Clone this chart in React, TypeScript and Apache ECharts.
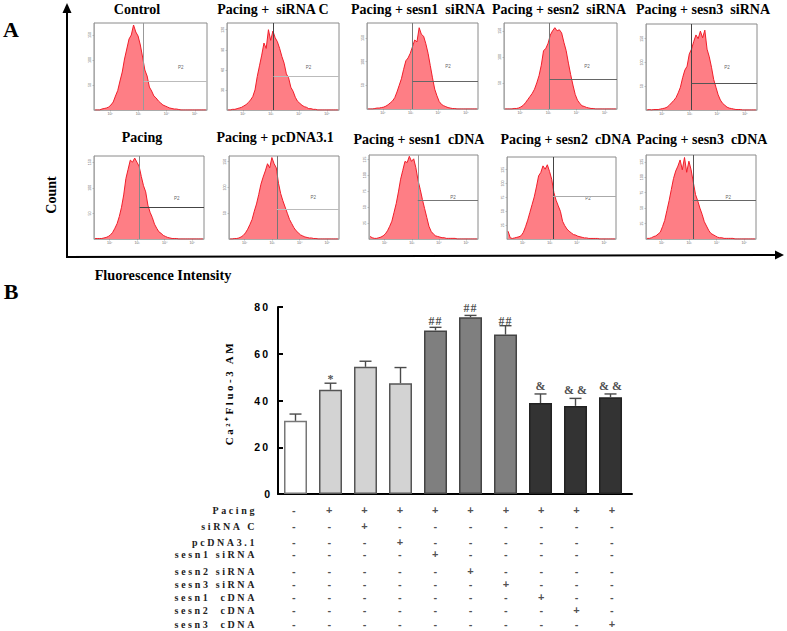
import React, { useEffect, useRef } from "react";
import * as echarts from "echarts";

// ---------- Panel A data: fluorescence histograms ----------
const BINS = [1.47, 1.55, 1.63, 1.71, 1.79, 1.87, 1.95, 2.03, 2.11, 2.19, 2.27, 2.35, 2.43, 2.51, 2.59, 2.67, 2.75, 2.83, 2.91, 2.99, 3.07, 3.15, 3.23, 3.31, 3.39, 3.47, 3.55, 3.63, 3.71, 3.79, 3.87, 3.95, 4.03, 4.11, 4.19, 4.27, 4.35, 4.43, 4.51, 4.59, 4.67, 4.75, 4.83, 4.91, 4.99, 5.07, 5.15, 5.23, 5.31, 5.39];
const HIST_CONTROL = [0, 0, 0, 2, 3, 4, 6, 10, 16, 28, 39, 58, 76, 102, 122, 142, 150, 170, 156, 148, 130, 106, 80, 68, 46, 38, 28, 24, 18, 14, 10, 8, 6, 4, 3, 2, 2, 1, 0, 0, 0, 0, 0, 0, 0, 0, 0, 0, 0, 0];
const HIST_SIRNA_C = [0, 0, 1, 1, 2, 3, 4, 6, 8, 11, 15, 20, 30, 50, 66, 82, 100, 92, 120, 104, 118, 108, 102, 92, 80, 70, 54, 48, 34, 28, 19, 13, 10, 7, 5, 4, 2, 2, 1, 1, 0, 0, 0, 0, 0, 0, 0, 0, 0, 0];
const HIST_SESN1_SI = [0, 0, 0, 1, 2, 2, 3, 4, 6, 9, 13, 17, 24, 36, 50, 64, 84, 102, 108, 118, 132, 146, 142, 172, 158, 154, 138, 118, 92, 66, 42, 28, 16, 10, 7, 5, 3, 2, 1, 1, 0, 0, 0, 0, 0, 0, 0, 0, 0, 0];
const HIST_SESN2_SI = [0, 0, 0, 0, 1, 1, 2, 4, 7, 12, 18, 24, 30, 38, 50, 64, 84, 112, 116, 126, 142, 150, 156, 150, 152, 146, 128, 112, 88, 66, 46, 28, 17, 11, 6, 5, 3, 2, 1, 1, 0, 0, 0, 0, 0, 0, 0, 0, 0, 0];
const HIST_SESN3_SI = [0, 1, 0, 1, 1, 1, 2, 3, 4, 6, 10, 15, 20, 26, 36, 48, 68, 84, 92, 118, 128, 144, 158, 150, 166, 152, 168, 128, 112, 90, 64, 48, 32, 21, 14, 10, 6, 4, 3, 2, 1, 1, 1, 0, 0, 0, 0, 0, 0, 0];
const HIST_PACING = [1, 1, 1, 1, 2, 3, 5, 8, 13, 21, 30, 44, 62, 86, 118, 136, 154, 150, 158, 150, 142, 122, 104, 92, 66, 52, 42, 29, 21, 14, 11, 7, 5, 3, 2, 1, 1, 1, 0, 0, 0, 0, 0, 0, 0, 0, 0, 0, 0, 0];
const HIST_PCDNA = [0, 0, 1, 1, 2, 4, 7, 12, 19, 28, 38, 54, 68, 86, 106, 120, 132, 146, 138, 158, 146, 138, 108, 88, 74, 62, 50, 38, 30, 22, 16, 12, 8, 6, 4, 3, 2, 2, 1, 1, 0, 0, 0, 0, 0, 0, 0, 0, 0, 0];
const HIST_SESN1_C = [4, 2, 1, 1, 2, 3, 5, 8, 13, 20, 28, 42, 56, 74, 94, 108, 122, 120, 130, 122, 126, 112, 92, 78, 62, 48, 34, 20, 12, 8, 5, 4, 3, 2, 2, 1, 1, 1, 1, 1, 0, 0, 0, 0, 0, 0, 0, 0, 0, 0];
const HIST_SESN2_C = [14, 2, 1, 2, 3, 4, 6, 12, 22, 34, 48, 62, 76, 94, 114, 120, 132, 126, 134, 122, 108, 84, 70, 60, 50, 32, 24, 18, 14, 11, 8, 7, 5, 4, 3, 2, 2, 1, 1, 1, 1, 1, 0, 0, 0, 0, 0, 0, 0, 0];
const HIST_SESN3_C = [1, 1, 2, 4, 5, 8, 11, 20, 30, 46, 62, 80, 98, 110, 118, 128, 112, 132, 108, 126, 112, 92, 72, 62, 50, 40, 28, 21, 14, 9, 7, 5, 3, 2, 2, 1, 1, 1, 1, 1, 0, 0, 0, 0, 0, 0, 0, 0, 0, 0];

const PANEL_TITLES = ["Control", "Pacing +  siRNA C", "Pacing + sesn1  siRNA", "Pacing + sesn2  siRNA", "Pacing + sesn3  siRNA", "Pacing", "Pacing + pcDNA3.1", "Pacing + sesn1  cDNA", "Pacing + sesn2  cDNA", "Pacing + sesn3  cDNA"];
const PANEL_HISTS = [HIST_CONTROL, HIST_SIRNA_C, HIST_SESN1_SI, HIST_SESN2_SI, HIST_SESN3_SI, HIST_PACING, HIST_PCDNA, HIST_SESN1_C, HIST_SESN2_C, HIST_SESN3_C];
const PANEL_YMAX = [174, 130, 182, 165, 181, 162, 161, 132, 148, 136];
const Y_TICKS_50 = [50, 100, 150];
const Y_TICKS_30 = [30, 60, 90, 120];
const Y_TICKS_25 = [25, 50, 75, 100, 125];
const PANEL_YTICKS = [Y_TICKS_50, Y_TICKS_30, Y_TICKS_50, Y_TICKS_50, Y_TICKS_50, Y_TICKS_50, Y_TICKS_50, Y_TICKS_25, Y_TICKS_25, Y_TICKS_25];
const GATE_X = [3.19, 3.09, 3.07, 3.04, 3.07, 3.09, 3.17, 3.22, 3.11, 3.13];
const GATE_Y = [58, 50, 59, 58, 56, 62, 57, 61, 77, 63];
const P2_X = [4.5, 4.34, 4.35, 4.37, 4.35, 4.44, 4.49, 4.51, 4.4, 4.42];
const P2_Y = [86, 64, 90, 82, 90, 80, 80, 65, 73, 67];
const DECADES = [2, 3, 4, 5];
const DECADE_LABELS: Record<number, string> = { 2: "10²", 3: "10³", 4: "10⁴", 5: "10⁵" };

// ---------- Panel B data ----------
const MEANS = [31.3, 44.6, 54.4, 47.4, 70, 75.6, 68.2, 38.9, 37.7, 41.4];
const UPPER = [34.2, 47.4, 56.8, 54.1, 71.3, 76.4, 72, 42.8, 40.9, 42.8];
const MARKS = ["", "*", "", "", "##", "##", "##", "&", "& &", "& &"];
const MARK_Y = [0, 49.4, 0, 0, 74, 79.6, 74, 46, 44.6, 46];
const GROUPS = [0, 1, 1, 1, 2, 2, 2, 3, 3, 3];
const ROW_NAMES = ["Pacing", "siRNA C", "pcDNA3.1", "sesn1 siRNA", "sesn2 siRNA", "sesn3 siRNA", "sesn1  cDNA", "sesn2  cDNA", "sesn3  cDNA"];
const R_PACING = ["-", "+", "+", "+", "+", "+", "+", "+", "+", "+"];
const R_SIRNA = ["-", "-", "+", "-", "-", "-", "-", "-", "-", "-"];
const R_PCDNA = ["-", "-", "-", "+", "-", "-", "-", "-", "-", "-"];
const R_S1SI = ["-", "-", "-", "-", "+", "-", "-", "-", "-", "-"];
const R_S2SI = ["-", "-", "-", "-", "-", "+", "-", "-", "-", "-"];
const R_S3SI = ["-", "-", "-", "-", "-", "-", "+", "-", "-", "-"];
const R_S1C = ["-", "-", "-", "-", "-", "-", "-", "+", "-", "-"];
const R_S2C = ["-", "-", "-", "-", "-", "-", "-", "-", "+", "-"];
const R_S3C = ["-", "-", "-", "-", "-", "-", "-", "-", "-", "+"];
const MATRIX = [R_PACING, R_SIRNA, R_PCDNA, R_S1SI, R_S2SI, R_S3SI, R_S1C, R_S2C, R_S3C];

// ---------- Layout and style (pixels) ----------
const PANEL_BOX = [
  [94, 23, 113, 87], [227, 23, 112, 87], [367, 23, 111, 86], [504, 23, 113, 86], [646, 24, 111, 86],
  [94, 156, 110, 83], [229, 156, 110, 83], [369, 155, 109, 84], [507, 157, 109, 82], [646, 155, 110, 84],
];
const TITLE_POS = [[137, 9], [273, 9], [418, 9], [559, 9], [703, 9], [142, 137], [275, 137], [419, 139], [566, 139], [702, 139]];
const GATE_V_COLOR = ["#999", "#444", "#777", "#777", "#444", "#888", "#777", "#999", "#444", "#555"];
const GATE_H_COLOR = ["#bbb", "#bbb", "#666", "#666", "#555", "#444", "#bbb", "#777", "#aaa", "#666"];
const ROW_PX = [510, 526, 542, 554, 571, 584, 597, 610, 624];
const GROUP_FILL = ["#ffffff", "#d3d3d3", "#7f7f7f", "#333333"];
const GROUP_EDGE = ["#777777", "#555555", "#444444", "#222222"];
const SERIF = "'Liberation Serif', serif";
const SANS = "'Liberation Sans', sans-serif";
const HIDDEN_POINT = { color: "transparent", borderWidth: 0 };

function buildOption() {
  const grids: any[] = [];
  const xAxes: any[] = [];
  const yAxes: any[] = [];
  const series: any[] = [];

  PANEL_HISTS.forEach((hist, i) => {
    const [left, top, width, height] = PANEL_BOX[i];
    grids.push({ left, top, width, height, show: true, borderColor: "#8a8a8a", borderWidth: 1, backgroundColor: "#fff" });
    xAxes.push({
      gridIndex: i, type: "value", min: 1.43, max: 5.43, splitLine: { show: false },
      axisLine: { lineStyle: { color: "#999", width: 0.6 } },
      axisTick: { customValues: DECADES, length: 1.5, lineStyle: { color: "#888", width: 0.5 } },
      axisLabel: { customValues: DECADES, fontSize: 3.6, margin: 2, color: "#666", fontFamily: SANS, formatter: (v: number) => DECADE_LABELS[v] },
    });
    yAxes.push({
      gridIndex: i, type: "value", min: 0, max: PANEL_YMAX[i], splitLine: { show: false },
      axisLine: { lineStyle: { color: "#999", width: 0.6 } },
      axisTick: { customValues: PANEL_YTICKS[i], length: 1.5, lineStyle: { color: "#888", width: 0.5 } },
      axisLabel: { customValues: PANEL_YTICKS[i], fontSize: 3.6, margin: 2, rotate: 90, color: "#666", fontFamily: SANS },
    });
    series.push({
      type: "line", xAxisIndex: i, yAxisIndex: i, symbol: "none", silent: true,
      data: hist.map((v, k) => [BINS[k], v]),
      lineStyle: { color: "#f01e2a", width: 1 }, areaStyle: { color: "#fe7e85", opacity: 1 },
      markLine: {
        silent: true, symbol: "none", animation: false, label: { show: false },
        data: [
          [{ coord: [GATE_X[i], 0], lineStyle: { color: GATE_V_COLOR[i], width: 1, type: "solid" } }, { coord: [GATE_X[i], PANEL_YMAX[i]] }],
          [{ coord: [GATE_X[i], GATE_Y[i]], lineStyle: { color: GATE_H_COLOR[i], width: 1, type: "solid" } }, { coord: [5.43, GATE_Y[i]] }],
        ],
      },
    });
    series.push({
      type: "scatter", xAxisIndex: i, yAxisIndex: i, silent: true, symbolSize: 1, itemStyle: HIDDEN_POINT,
      data: [[P2_X[i], P2_Y[i]]],
      label: { show: true, position: "inside", formatter: "P2", fontSize: 4.5, color: "#333", textBorderWidth: 0, fontFamily: SANS },
    });
  });

  // Bar chart
  grids.push({ left: 278, top: 307, width: 354, height: 187 });
  xAxes.push({
    gridIndex: 10, type: "value", min: 0, max: 10.114, splitLine: { show: false },
    axisLine: { onZero: false, lineStyle: { color: "#000", width: 2 } }, axisTick: { show: false }, axisLabel: { show: false },
  });
  yAxes.push({
    gridIndex: 10, type: "value", min: 0, max: 80, interval: 20, splitLine: { show: false },
    axisLine: { show: true, lineStyle: { color: "#000", width: 2 } },
    axisTick: { show: true, inside: true, length: 5, lineStyle: { color: "#000", width: 2 } },
    axisLabel: { fontSize: 10.5, fontWeight: "bold", color: "#000", fontFamily: SANS, margin: 8 },
  });
  series.push({
    type: "bar", xAxisIndex: 10, yAxisIndex: 10, barWidth: 23, silent: true,
    data: MEANS.map((v, i) => ({
      value: [i + 0.5, v],
      itemStyle: { color: GROUP_FILL[GROUPS[i]], borderColor: GROUP_EDGE[GROUPS[i]], borderWidth: 1.5 },
    })),
  });
  series.push({
    type: "custom", xAxisIndex: 10, yAxisIndex: 10, silent: true, z: 3,
    data: MEANS.map((v, i) => [i + 0.5, v, UPPER[i]]),
    renderItem: (_: any, api: any) => {
      const low = api.coord([api.value(0), api.value(1)]);
      const high = api.coord([api.value(0), api.value(2)]);
      const style = { stroke: "#4a4a4a", lineWidth: 1.4, fill: "none" };
      return {
        type: "group",
        children: [
          { type: "line", shape: { x1: low[0], y1: low[1], x2: high[0], y2: high[1] }, style },
          { type: "line", shape: { x1: high[0] - 6, y1: high[1], x2: high[0] + 6, y2: high[1] }, style },
        ],
      };
    },
  });
  series.push({
    type: "scatter", xAxisIndex: 10, yAxisIndex: 10, silent: true, symbolSize: 1, itemStyle: HIDDEN_POINT, z: 4,
    data: MARKS.map((m, i) => ({ value: [i + 0.5, MARK_Y[i]], name: m })).filter((d) => d.name),
    label: { show: true, position: "inside", formatter: "{b}", fontSize: 12, fontWeight: "bold", color: "#222", textBorderWidth: 0, fontFamily: SERIF },
  });

  // +/- table: same origin as the bar chart, column pitch
  grids.push({ left: 278, top: 495, width: 354, height: 136 });
  xAxes.push({ gridIndex: 11, type: "value", min: 0, max: 10.02, show: false, splitLine: { show: false } });
  yAxes.push({
    gridIndex: 11, type: "value", inverse: true, min: 495, max: 631, splitLine: { show: false },
    axisLine: { show: false }, axisTick: { show: false },
    axisLabel: {
      customValues: ROW_PX, fontSize: 10, fontWeight: "bold", color: "#222", fontFamily: SERIF, margin: 21,
      formatter: (v: number) => ROW_NAMES[ROW_PX.indexOf(v)],
    },
  });
  series.push({
    type: "scatter", xAxisIndex: 11, yAxisIndex: 11, silent: true, symbolSize: 1, itemStyle: HIDDEN_POINT,
    data: MATRIX.flatMap((row, r) => row.map((s, c) => ({ value: [c + 0.45, ROW_PX[r]], name: s }))),
    label: { show: true, position: "inside", formatter: "{b}", fontSize: 11, fontWeight: "bold", color: "#222", textBorderWidth: 0, fontFamily: SANS },
  });

  const text = (x: number, y: number, t: string, fontSize: number, extra: any = {}) => ({
    type: "text", x, y, silent: true, ...extra,
    style: { text: t, fontSize, fontWeight: "bold", fontFamily: SERIF, fill: "#000", align: "center", verticalAlign: "middle", ...(extra.style || {}) },
  });
  const graphic = [
    { type: "line", silent: true, shape: { x1: 67, y1: 257, x2: 67, y2: 10 }, style: { stroke: "#000", lineWidth: 2 } },
    { type: "polygon", silent: true, shape: { points: [[67, 3], [62.5, 13], [71.5, 13]] }, style: { fill: "#000" } },
    { type: "line", silent: true, shape: { x1: 66, y1: 257, x2: 776, y2: 255 }, style: { stroke: "#000", lineWidth: 2 } },
    { type: "polygon", silent: true, shape: { points: [[784, 255], [775, 250.5], [775, 259.5]] }, style: { fill: "#000" } },
    text(11, 29, "A", 22),
    text(11, 291, "B", 22),
    text(51, 195, "Count", 14, { rotation: Math.PI / 2 }),
    text(163, 275, "Fluorescence Intensity", 14.3),
    text(229, 393, "Ca²⁺Fluo-3 AM", 11, { rotation: Math.PI / 2 }),
    ...PANEL_TITLES.map((t, i) => text(TITLE_POS[i][0], TITLE_POS[i][1], t, 14)),
  ];

  return { animation: false, backgroundColor: "#fff", grid: grids, xAxis: xAxes, yAxis: yAxes, series, graphic };
}

const SPACED: Record<string, string> = { "Ca²⁺Fluo-3 AM": "2.5px", "20": "2px", "40": "2px", "60": "2px", "80": "2px", "##": "1px" };
const ROW_SPACED = new Set(ROW_NAMES);

export default function App() {
  const ref = useRef<HTMLDivElement>(null);
  useEffect(() => {
    const el = ref.current!;
    const chart = echarts.init(el, undefined, { renderer: "svg" });
    chart.setOption(buildOption());
    const applySpacing = () => {
      el.querySelectorAll("text").forEach((node) => {
        const t = node.textContent || "";
        const top = node.getBoundingClientRect().top;
        let s = SPACED[t];
        if (ROW_SPACED.has(t) && top > 495) s = "2.6px";
        if (s && top > 290) (node as SVGTextElement).style.letterSpacing = s;
      });
    };
    applySpacing();
    chart.on("finished", applySpacing);
    return () => chart.dispose();
  }, []);
  return <div ref={ref} style={{ position: "fixed", left: 0, top: 0, width: 787, height: 631 }} />;
}
